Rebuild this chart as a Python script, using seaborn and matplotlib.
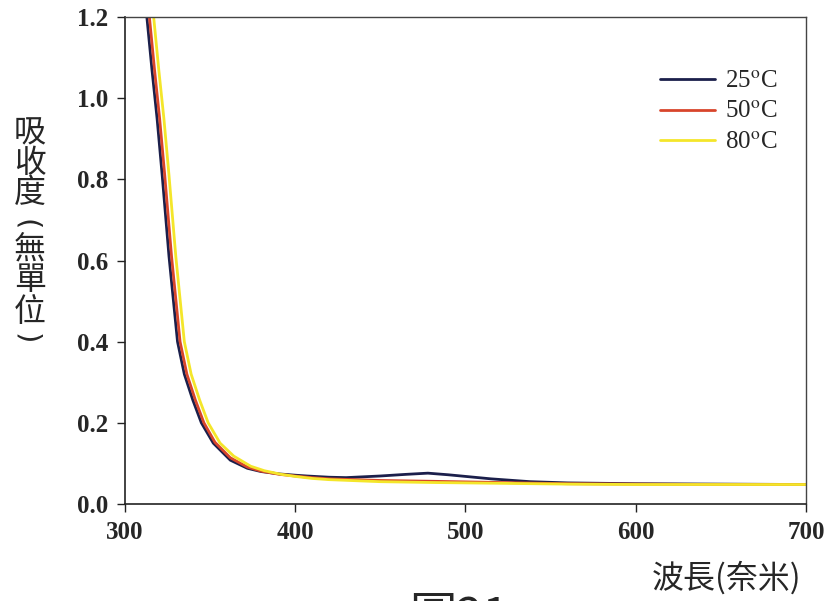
import numpy as np
import pandas as pd
import matplotlib
matplotlib.use("Agg")
import matplotlib.pyplot as plt
import seaborn as sns

# ---- data ----
wl_25 = [312, 313, 316, 319, 322, 326, 331, 335, 340, 345, 352, 362, 372, 380, 391, 400, 407, 420, 430, 440,
         450, 465, 478, 490, 500, 515, 538, 560, 600, 650, 700]
abs_25 = [1.24, 1.20, 1.07, 0.95, 0.81, 0.61, 0.40, 0.32, 0.256, 0.20, 0.15, 0.108, 0.088, 0.080, 0.074, 0.071,
          0.069, 0.066, 0.065, 0.067, 0.069, 0.073, 0.076, 0.072, 0.068, 0.062, 0.055, 0.052, 0.050, 0.049, 0.048]

wl_50 = [313, 314.5, 317.5, 320.5, 323.5, 327.5, 332.5, 336.5, 341.5, 346.5, 353, 362, 372, 380, 391, 400,
         410, 420, 450, 480, 520, 560, 600, 650, 700]
abs_50 = [1.24, 1.20, 1.07, 0.95, 0.81, 0.61, 0.40, 0.32, 0.256, 0.20, 0.152, 0.114, 0.091, 0.081, 0.073, 0.069,
          0.065, 0.062, 0.058, 0.056, 0.053, 0.050, 0.049, 0.048, 0.048]

wl_80 = [316, 317, 320, 323, 326, 330, 335, 339, 344, 349, 356, 364, 374, 382, 392, 400,
         410, 420, 450, 480, 520, 560, 600, 650, 700]
abs_80 = [1.23, 1.20, 1.07, 0.95, 0.81, 0.61, 0.40, 0.32, 0.256, 0.20, 0.150, 0.118, 0.093, 0.082, 0.073, 0.068,
          0.063, 0.060, 0.055, 0.053, 0.051, 0.049, 0.048, 0.048, 0.048]

labels = [r"25$^{\mathrm{o}}$C", r"50$^{\mathrm{o}}$C", r"80$^{\mathrm{o}}$C"]
colors = ["#1b1f4b", "#d8452b", "#f4e62a"]
x_ticks = [300, 400, 500, 600, 700]
y_ticks = [0.0, 0.2, 0.4, 0.6, 0.8, 1.0, 1.2]
ylabel_chars = ["吸", "收", "度", "(", "無", "單", "位", ")"]
xlabel = "波長(奈米)"
fig_caption = "圖21"

df = pd.concat([
    pd.DataFrame({"wl": wl_25, "A": abs_25, "temp": labels[0]}),
    pd.DataFrame({"wl": wl_50, "A": abs_50, "temp": labels[1]}),
    pd.DataFrame({"wl": wl_80, "A": abs_80, "temp": labels[2]}),
], ignore_index=True)

sns.set_theme(style="white")
plt.rcParams["font.family"] = ["Liberation Serif", "DejaVu Serif"]
plt.rcParams["mathtext.fontset"] = "stix"

fig = plt.figure(figsize=(8.27, 6.01), dpi=100)
ax = fig.add_axes([0.1508, 0.1614, 0.8238, 0.8103])

sns.lineplot(data=df, x="wl", y="A", hue="temp", hue_order=labels,
             palette=dict(zip(labels, colors)), linewidth=2.0, ax=ax,
             sort=True, estimator=None)

ax.set_xlim(300, 700)
ax.set_ylim(0, 1.2)
ax.set_xticks(x_ticks)
ax.set_yticks(y_ticks)
ax.set_xticklabels([str(t) for t in x_ticks], fontsize=18, fontweight="bold")
ax.set_yticklabels([f"{t:.1f}" for t in y_ticks], fontsize=18, fontweight="bold")
ax.tick_params(axis="both", direction="out", length=6, width=1.0, color="#222222",
               bottom=True, left=True, pad=6)
for side in ["left", "bottom"]:
    ax.spines[side].set_color("#222222")
    ax.spines[side].set_linewidth(1.2)
for side in ["top", "right"]:
    ax.spines[side].set_color("#444444")
    ax.spines[side].set_linewidth(1.0)

ax.set_xlabel("")
ax.set_ylabel("")

cjk = ["Noto Sans CJK TC", "DejaVu Sans"]
# vertical y label, one glyph per row (pixel centres from the reference)
ypix = [133, 163, 193, 225, 249, 280, 312, 339]
for ch, yp in zip(ylabel_chars, ypix):
    if ch in "()":
        fig.text(26 / 827, 1 - yp / 601, ch, ha="center", va="center", fontsize=21,
                 family=["DejaVu Sans"], rotation=-90)
    else:
        fig.text(30 / 827, 1 - yp / 601, ch, ha="center", va="center", fontsize=23, family=cjk)

fig.text(0.878, 0.038, xlabel, ha="center", va="center", fontsize=23, family=cjk)
fig.text(0.555, -0.028, fig_caption, ha="center", va="center", fontsize=34, family=cjk)

leg = ax.legend(title=None, loc="upper left", bbox_to_anchor=(0.753, 0.937),
                frameon=False, fontsize=18, handlelength=2.2, labelspacing=0.33,
                handletextpad=0.4)
for line in leg.get_lines():
    line.set_linewidth(2.0)

fig.savefig("out.png", dpi=100)
